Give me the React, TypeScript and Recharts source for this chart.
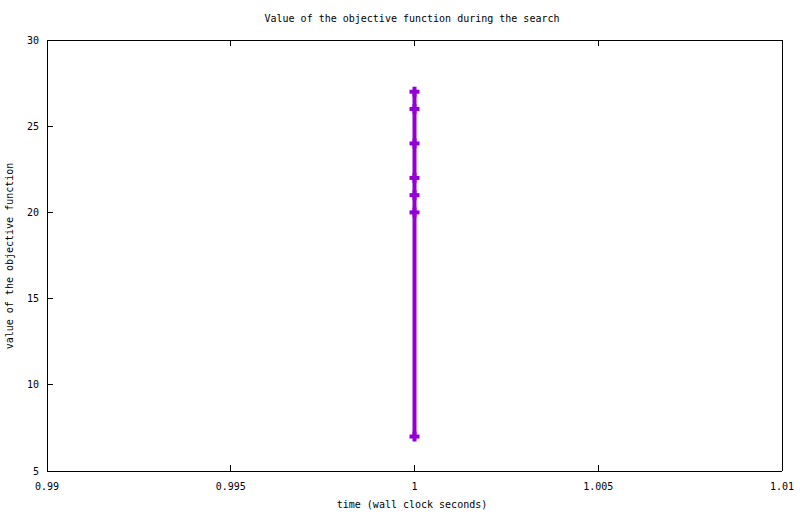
import React from 'react';
import { LineChart, Line, XAxis, YAxis } from 'recharts';

// objective value samples, all recorded at t = 1s
const TIMES = [1, 1, 1, 1, 1, 1, 1];
const VALUES = [7, 20, 21, 22, 24, 26, 27];
const X_TICKS = [0.99, 0.995, 1, 1.005, 1.01];
const Y_TICKS = [5, 10, 15, 20, 25, 30];

const data = TIMES.map((t, i) => ({ time: t, value: VALUES[i] }));

const FONT = '"DejaVu Sans Mono", "Liberation Mono", monospace';
const PURPLE = '#9400D3';
const TICK_LEN = 6;

const BottomTick = ({ x, y, payload }: any) => (
  <g>
    <line x1={x} y1={y} x2={x} y2={y - TICK_LEN} stroke="#000" shapeRendering="crispEdges" />
    <text x={x} y={y + 15} textAnchor="middle" dominantBaseline="central" fontFamily={FONT} fontSize={10} fill="#000">
      {String(payload.value)}
    </text>
  </g>
);

const LeftTick = ({ x, y, payload }: any) => (
  <g>
    <line x1={x} y1={y} x2={x + TICK_LEN} y2={y} stroke="#000" shapeRendering="crispEdges" />
    <text x={x - 8} y={y} textAnchor="end" dominantBaseline="central" fontFamily={FONT} fontSize={10} fill="#000">
      {String(payload.value)}
    </text>
  </g>
);

const TopTick = ({ x, y }: any) => (
  <line x1={x} y1={y} x2={x} y2={y + TICK_LEN} stroke="#000" shapeRendering="crispEdges" />
);

const RightTick = ({ x, y }: any) => (
  <line x1={x} y1={y} x2={x - TICK_LEN} y2={y} stroke="#000" shapeRendering="crispEdges" />
);

const CrossDot = (props: any) => {
  const { cx, cy, index } = props;
  if (cx == null || cy == null) return <g key={index} />;
  return (
    <g key={index}>
      <line x1={cx - 5} y1={cy} x2={cx + 5} y2={cy} stroke={PURPLE} strokeWidth={4} />
      <line x1={cx} y1={cy - 5} x2={cx} y2={cy + 5} stroke={PURPLE} strokeWidth={4} />
    </g>
  );
};

const axisLine = { stroke: '#000', shapeRendering: 'crispEdges' } as any;

export default function App() {
  return (
    <div style={{ position: 'absolute', left: 0, top: 0, width: 800, height: 514, background: '#fff' }}>
      <div style={{ position: 'absolute', left: 0, width: 824, top: 12, textAlign: 'center', fontFamily: FONT, fontSize: 10, lineHeight: '14px' }}>
        Value of the objective function during the search
      </div>
      <div style={{ position: 'absolute', left: 0, width: 824, top: 498, textAlign: 'center', fontFamily: FONT, fontSize: 10, lineHeight: '14px' }}>
        time (wall clock seconds)
      </div>
      <div
        style={{
          position: 'absolute',
          left: 10,
          top: 256,
          transform: 'translate(-50%, -50%) rotate(-90deg)',
          whiteSpace: 'nowrap',
          fontFamily: FONT,
          fontSize: 10,
          lineHeight: '14px',
        }}
      >
        value of the objective function
      </div>
      <LineChart width={800} height={514} data={data} margin={{ top: 39, right: 17, bottom: 0, left: 0 }}>
        <XAxis
          xAxisId="bottom"
          type="number"
          dataKey="time"
          domain={[0.99, 1.01]}
          ticks={X_TICKS}
          allowDataOverflow
          height={43}
          tickSize={0}
          tickMargin={0}
          tickLine={false}
          axisLine={axisLine}
          tick={<BottomTick />}
          interval={0}
        />
        <XAxis
          xAxisId="top"
          orientation="top"
          type="number"
          dataKey="time"
          domain={[0.99, 1.01]}
          ticks={X_TICKS}
          allowDataOverflow
          height={1}
          tickSize={0}
          tickMargin={0}
          tickLine={false}
          axisLine={axisLine}
          tick={<TopTick />}
          interval={0}
        />
        <YAxis
          yAxisId="left"
          type="number"
          domain={[5, 30]}
          ticks={Y_TICKS}
          width={47}
          tickSize={0}
          tickMargin={0}
          tickLine={false}
          axisLine={axisLine}
          tick={<LeftTick />}
          interval={0}
        />
        <YAxis
          yAxisId="right"
          orientation="right"
          type="number"
          domain={[5, 30]}
          ticks={Y_TICKS}
          width={1}
          tickSize={0}
          tickMargin={0}
          tickLine={false}
          axisLine={axisLine}
          tick={<RightTick />}
          interval={0}
        />
        <Line
          xAxisId="bottom"
          yAxisId="left"
          dataKey="value"
          stroke={PURPLE}
          strokeWidth={4}
          dot={CrossDot}
          activeDot={false}
          isAnimationActive={false}
        />
      </LineChart>
    </div>
  );
}
